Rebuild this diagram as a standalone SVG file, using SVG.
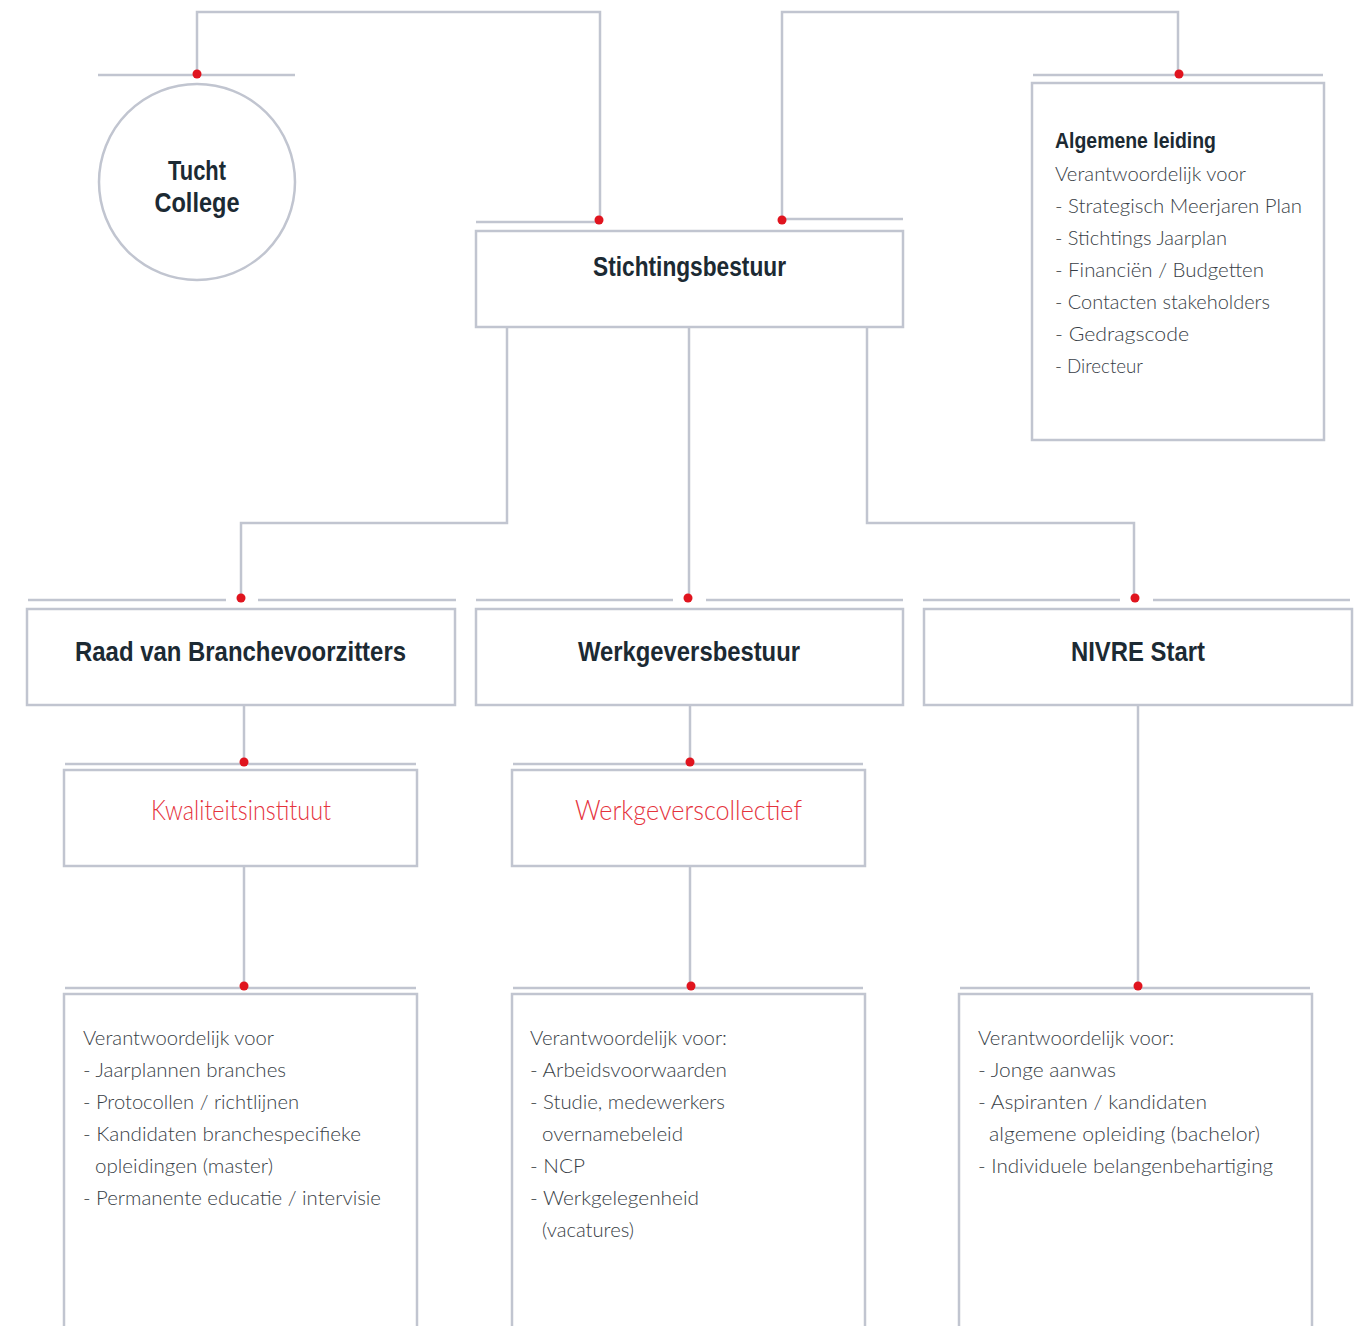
<svg xmlns="http://www.w3.org/2000/svg" width="1364" height="1326" viewBox="0 0 1364 1326">
<style>
.ln{fill:none;stroke:#c1c5d0;stroke-width:2.5}
.bx{fill:#fff;stroke:#c1c5d0;stroke-width:2.5}
.dot{fill:#e0141e}
.tb{font-family:"Liberation Sans",Arial,sans-serif;font-weight:bold;font-size:28px;fill:#1c2a33}
.tr{font-family:Lato,"Liberation Sans",sans-serif;font-weight:300;font-size:27px;fill:#e5333d}
.tx{font-family:Lato,"Liberation Sans",sans-serif;font-weight:300;font-size:20.5px;fill:#383e46}
.th{font-family:"Liberation Sans",Arial,sans-serif;font-weight:bold;font-size:22px;fill:#1c2a33}
</style>
<rect width="1364" height="1326" fill="#fff"/>
<g id="connectors">
<polyline class="ln" points="197,74 197,12 600,12 600,220"/>
<polyline class="ln" points="782,220 782,12 1178,12 1178,74"/>
<line class="ln" x1="98" y1="75" x2="295" y2="75"/>
<line class="ln" x1="476" y1="222" x2="599" y2="222"/>
<line class="ln" x1="782" y1="219" x2="903" y2="219"/>
<line class="ln" x1="1033" y1="75" x2="1323" y2="75"/>
<polyline class="ln" points="507,325 507,523 241,523 241,598"/>
<line class="ln" x1="689" y1="325" x2="689" y2="598"/>
<polyline class="ln" points="867,325 867,523 1134,523 1134,598"/>
<line class="ln" x1="28" y1="600" x2="226" y2="600"/>
<line class="ln" x1="258" y1="600" x2="456" y2="600"/>
<line class="ln" x1="476" y1="600" x2="673" y2="600"/>
<line class="ln" x1="706" y1="600" x2="903" y2="600"/>
<line class="ln" x1="923" y1="600" x2="1120" y2="600"/>
<line class="ln" x1="1153" y1="600" x2="1350" y2="600"/>
<line class="ln" x1="244" y1="705" x2="244" y2="762"/>
<line class="ln" x1="690" y1="705" x2="690" y2="762"/>
<line class="ln" x1="65" y1="764" x2="416" y2="764"/>
<line class="ln" x1="513" y1="764" x2="863" y2="764"/>
<line class="ln" x1="244" y1="866" x2="244" y2="986"/>
<line class="ln" x1="690" y1="866" x2="690" y2="986"/>
<line class="ln" x1="1138" y1="705" x2="1138" y2="986"/>
<line class="ln" x1="65" y1="988" x2="416" y2="988"/>
<line class="ln" x1="513" y1="988" x2="863" y2="988"/>
<line class="ln" x1="960" y1="988" x2="1310" y2="988"/>
<circle class="dot" cx="197" cy="74" r="4.5"/>
<circle class="dot" cx="599" cy="220" r="4.5"/>
<circle class="dot" cx="782" cy="220" r="4.5"/>
<circle class="dot" cx="1179" cy="74" r="4.5"/>
<circle class="dot" cx="241" cy="598" r="4.5"/>
<circle class="dot" cx="688" cy="598" r="4.5"/>
<circle class="dot" cx="1135" cy="598" r="4.5"/>
<circle class="dot" cx="244" cy="762" r="4.5"/>
<circle class="dot" cx="690" cy="762" r="4.5"/>
<circle class="dot" cx="244" cy="986" r="4.5"/>
<circle class="dot" cx="691" cy="986" r="4.5"/>
<circle class="dot" cx="1138" cy="986" r="4.5"/>
</g>
<g id="tucht-college">
<circle class="bx" cx="197" cy="182" r="98"/>
<text class="tb" x="197" y="180" text-anchor="middle" textLength="58" lengthAdjust="spacingAndGlyphs">Tucht</text>
<text class="tb" x="197" y="212" text-anchor="middle" textLength="85" lengthAdjust="spacingAndGlyphs">College</text>
</g>
<g id="stichtingsbestuur">
<rect class="bx" x="476" y="231" width="427" height="96"/>
<text class="tb" x="689.5" y="276" text-anchor="middle" textLength="193" lengthAdjust="spacingAndGlyphs">Stichtingsbestuur</text>
</g>
<g id="algemene-leiding">
<rect class="bx" x="1032" y="83" width="292" height="357"/>
<text class="th" x="1055" y="148" textLength="161" lengthAdjust="spacingAndGlyphs">Algemene leiding</text>
<text class="tx" x="1055" y="181" textLength="191" lengthAdjust="spacingAndGlyphs">Verantwoordelijk voor</text>
<text class="tx" x="1055" y="213" textLength="247" lengthAdjust="spacingAndGlyphs">- Strategisch Meerjaren Plan</text>
<text class="tx" x="1055" y="245" textLength="172" lengthAdjust="spacingAndGlyphs">- Stichtings Jaarplan</text>
<text class="tx" x="1055" y="277" textLength="209" lengthAdjust="spacingAndGlyphs">- Financiën / Budgetten</text>
<text class="tx" x="1055" y="309" textLength="215" lengthAdjust="spacingAndGlyphs">- Contacten stakeholders</text>
<text class="tx" x="1055" y="341" textLength="134" lengthAdjust="spacingAndGlyphs">- Gedragscode</text>
<text class="tx" x="1055" y="373" textLength="88" lengthAdjust="spacingAndGlyphs">- Directeur</text>
</g>
<g id="raad-van-branchevoorzitters">
<rect class="bx" x="27" y="609" width="428" height="96"/>
<text class="tb" x="240.5" y="661" text-anchor="middle" textLength="331" lengthAdjust="spacingAndGlyphs">Raad van Branchevoorzitters</text>
</g>
<g id="werkgeversbestuur">
<rect class="bx" x="476" y="609" width="427" height="96"/>
<text class="tb" x="689" y="661" text-anchor="middle" textLength="222" lengthAdjust="spacingAndGlyphs">Werkgeversbestuur</text>
</g>
<g id="nivre-start">
<rect class="bx" x="924" y="609" width="428" height="96"/>
<text class="tb" x="1138" y="661" text-anchor="middle" textLength="134" lengthAdjust="spacingAndGlyphs">NIVRE Start</text>
</g>
<g id="kwaliteitsinstituut">
<rect class="bx" x="64" y="770" width="353" height="96"/>
<text class="tr" x="241" y="820" text-anchor="middle" textLength="180" lengthAdjust="spacingAndGlyphs">Kwaliteitsinstituut</text>
</g>
<g id="werkgeverscollectief">
<rect class="bx" x="512" y="770" width="353" height="96"/>
<text class="tr" x="688.5" y="820" text-anchor="middle" textLength="227" lengthAdjust="spacingAndGlyphs">Werkgeverscollectief</text>
</g>
<g id="taken-kwaliteitsinstituut">
<path class="ln" d="M64,1330 V994 H417 V1330"/>
<text class="tx" x="83" y="1045" textLength="191" lengthAdjust="spacingAndGlyphs">Verantwoordelijk voor</text>
<text class="tx" x="83" y="1077" textLength="203" lengthAdjust="spacingAndGlyphs">- Jaarplannen branches</text>
<text class="tx" x="83" y="1109" textLength="216" lengthAdjust="spacingAndGlyphs">- Protocollen / richtlijnen</text>
<text class="tx" x="83" y="1141" textLength="278" lengthAdjust="spacingAndGlyphs">- Kandidaten branchespecifieke</text>
<text class="tx" x="95" y="1173" textLength="178" lengthAdjust="spacingAndGlyphs">opleidingen (master)</text>
<text class="tx" x="83" y="1205" textLength="298" lengthAdjust="spacingAndGlyphs">- Permanente educatie / intervisie</text>
</g>
<g id="taken-werkgeverscollectief">
<path class="ln" d="M512,1330 V994 H865 V1330"/>
<text class="tx" x="530" y="1045" textLength="197" lengthAdjust="spacingAndGlyphs">Verantwoordelijk voor:</text>
<text class="tx" x="530" y="1077" textLength="197" lengthAdjust="spacingAndGlyphs">- Arbeidsvoorwaarden</text>
<text class="tx" x="530" y="1109" textLength="195" lengthAdjust="spacingAndGlyphs">- Studie, medewerkers</text>
<text class="tx" x="542" y="1141" textLength="141" lengthAdjust="spacingAndGlyphs">overnamebeleid</text>
<text class="tx" x="530" y="1173" textLength="55" lengthAdjust="spacingAndGlyphs">- NCP</text>
<text class="tx" x="530" y="1205" textLength="169" lengthAdjust="spacingAndGlyphs">- Werkgelegenheid</text>
<text class="tx" x="542" y="1237" textLength="92" lengthAdjust="spacingAndGlyphs">(vacatures)</text>
</g>
<g id="taken-nivre-start">
<path class="ln" d="M959,1330 V994 H1312 V1330"/>
<text class="tx" x="978" y="1045" textLength="196" lengthAdjust="spacingAndGlyphs">Verantwoordelijk voor:</text>
<text class="tx" x="978" y="1077" textLength="138" lengthAdjust="spacingAndGlyphs">- Jonge aanwas</text>
<text class="tx" x="978" y="1109" textLength="229" lengthAdjust="spacingAndGlyphs">- Aspiranten / kandidaten</text>
<text class="tx" x="989" y="1141" textLength="271" lengthAdjust="spacingAndGlyphs">algemene opleiding (bachelor)</text>
<text class="tx" x="978" y="1173" textLength="295" lengthAdjust="spacingAndGlyphs">- Individuele belangenbehartiging</text>
</g>
</svg>
